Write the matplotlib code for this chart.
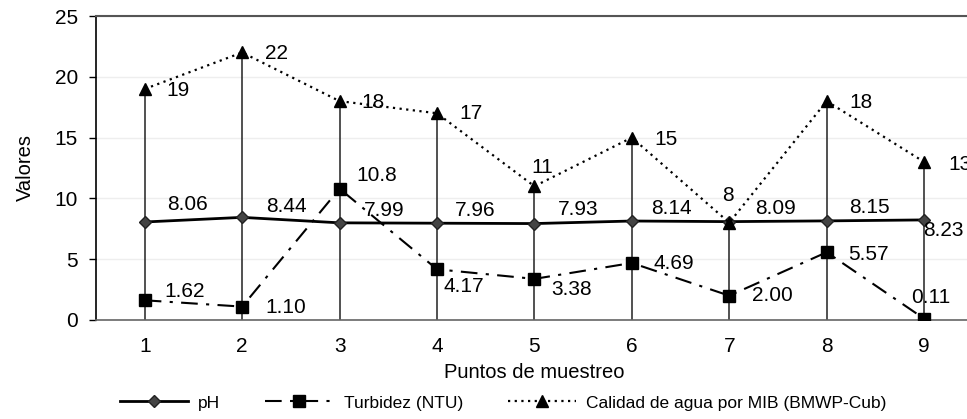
import numpy as np
import matplotlib.pyplot as plt

plt.rcParams['font.family'] = ['Liberation Sans', 'DejaVu Sans']

puntos = [1, 2, 3, 4, 5, 6, 7, 8, 9]
ph = [8.06, 8.44, 7.99, 7.96, 7.93, 8.14, 8.09, 8.15, 8.23]
turbidez = [1.62, 1.10, 10.8, 4.17, 3.38, 4.69, 2.00, 5.57, 0.11]
mib = [19, 22, 18, 17, 11, 15, 8, 18, 13]

ph_labels = ['8.06', '8.44', '7.99', '7.96', '7.93', '8.14', '8.09', '8.15', '8.23']
turb_labels = ['1.62', '1.10', '10.8', '4.17', '3.38', '4.69', '2.00', '5.57', '0.11']
mib_labels = [str(v) for v in mib]

fig = plt.figure(figsize=(9.67, 4.19), dpi=100)
ax = fig.add_axes([0.0993, 0.2363, 0.9067, 0.7255])

# drop lines from the highest point down to the axis
tops = np.max([ph, turbidez, mib], axis=0)
ax.vlines(puntos, 0, tops, color='#222222', lw=1.1, zorder=1)

ax.plot(puntos, ph, color='black', lw=2, marker='D', ms=6,
        mfc='#444444', mec='#222222', label='pH', zorder=3)
ax.plot(puntos, turbidez, color='black', lw=1.5, dashes=(8, 4, 1.5, 4),
        marker='s', ms=8, mfc='black', mec='black', label='Turbidez (NTU)', zorder=3)
ax.plot(puntos, mib, color='black', lw=1.6, linestyle=(0, (1, 2)),
        marker='^', ms=8.5, mfc='black', mec='black',
        label='Calidad de agua por MIB (BMWP-Cub)', zorder=3)

fs = 15
# data label offsets in pixels (dx right, dy down)
ph_off = [(43, -17), (44, -11), (45, -12), (38, -13), (44, -14), (40, -13), (46, -13), (43, -13), (19, 11)]
turb_off = [(40, -9), (44, 1), (37, -13), (27, 17), (37, 11), (42, 1), (43, 0), (42, 2), (7, -21)]
mib_off = [(33, 2), (34, 1), (33, 1), (34, 0), (8, -19), (34, 2), (-1, -27), (34, 1), (36, 3)]

for vals, labs, offs in [(ph, ph_labels, ph_off), (turbidez, turb_labels, turb_off),
                         (mib, mib_labels, mib_off)]:
    for x, y, t, (dx, dy) in zip(puntos, vals, labs, offs):
        ax.annotate(t, (x, y), xytext=(dx, -dy), textcoords='offset pixels',
                    ha='center', va='center', fontsize=fs, zorder=4)

ax.set_xlim(0.5, 9.5)
ax.set_ylim(0, 25)
ax.set_yticks([0, 5, 10, 15, 20, 25])
ax.set_xticks(puntos)
ax.tick_params(axis='y', labelsize=15, length=5, width=1, direction='out', pad=8)
ax.tick_params(axis='x', labelsize=15, length=0, pad=12)
ax.yaxis.grid(True, color='#eeeeee', lw=1)
ax.set_axisbelow(True)

ax.spines['right'].set_visible(False)
ax.spines['top'].set_color('#555555')
ax.spines['top'].set_linewidth(1.5)
ax.spines['left'].set_linewidth(1.2)
ax.spines['bottom'].set_color('#666666')
ax.spines['bottom'].set_linewidth(1.2)

ax.set_xlabel('Puntos de muestreo', fontsize=14.5, labelpad=5)
ax.set_ylabel('Valores', fontsize=14.5, labelpad=14)

fig.legend(loc='center left', bbox_to_anchor=(120 / 967, 1 - 403 / 419), ncol=3,
           frameon=False, fontsize=12.5, handlelength=3.9, columnspacing=2.6,
           handletextpad=0.6, borderpad=0, borderaxespad=0)

fig.savefig('out.png', dpi=100)
